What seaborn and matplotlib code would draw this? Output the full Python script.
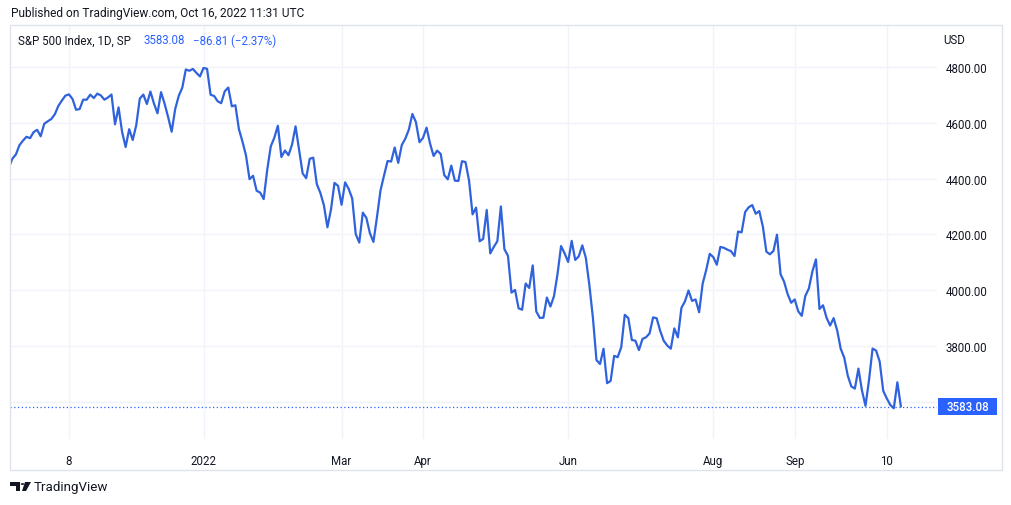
import numpy as np
import pandas as pd
import matplotlib
matplotlib.use("Agg")
import matplotlib.pyplot as plt
import matplotlib.transforms as mtransforms
from matplotlib.patches import Rectangle, Polygon, Circle
import seaborn as sns

# ---------------- data ----------------
start_date = "2021-10-14"
end_date = "2022-10-14"
holidays = ["2021-11-25", "2021-12-24", "2022-01-17", "2022-02-21", "2022-04-15",
            "2022-05-30", "2022-06-20", "2022-07-04", "2022-09-05"]

close_2021 = [
    4438.26, 4471.37, 4486.46, 4519.63, 4536.19, 4549.78, 4544.90, 4566.48, 4574.79, 4551.68, 4596.42, 4605.38,
    4613.67, 4630.65, 4660.57, 4680.06, 4697.53, 4701.70, 4685.25, 4646.71, 4649.27, 4682.85, 4682.80, 4700.90,
    4688.67, 4704.54, 4697.96, 4682.94, 4690.70, 4701.46, 4594.62, 4655.27, 4567.00,
    4513.04, 4577.10, 4538.43, 4591.67, 4686.75, 4701.21, 4667.45, 4712.02, 4668.97, 4634.09, 4709.85, 4668.67,
    4620.64, 4568.02, 4649.23, 4696.56, 4725.79, 4791.19, 4786.35, 4793.06, 4778.73, 4766.18,
]
close_2022_h1 = [
    4796.56, 4793.54, 4700.58, 4696.05, 4677.03, 4670.29, 4713.07, 4726.35, 4659.03, 4662.85, 4577.11, 4532.76,
    4482.73, 4397.94, 4410.13, 4356.45, 4349.93, 4326.51, 4431.85, 4515.55,
    4546.54, 4589.38, 4477.44, 4500.53, 4483.87, 4521.54, 4587.18, 4504.08, 4418.64, 4401.67, 4471.07, 4475.01,
    4380.26, 4348.87, 4304.76, 4225.50, 4288.70, 4384.65, 4373.94,
    4306.26, 4386.54, 4363.49, 4328.87, 4201.09, 4170.70, 4277.88, 4259.52, 4204.31, 4173.11, 4262.45, 4357.86,
    4411.67, 4463.12, 4461.18, 4511.61, 4456.24, 4520.16, 4543.06, 4575.52, 4631.60, 4602.45, 4530.41,
    4545.86, 4582.64, 4525.12, 4481.15, 4500.21, 4488.28, 4412.53, 4397.45, 4446.59, 4392.59, 4391.69, 4462.21,
    4459.45, 4393.66, 4271.78, 4296.12, 4175.20, 4183.96, 4287.50, 4131.93,
    4155.38, 4175.48, 4300.17, 4146.87, 4123.34, 3991.24, 4001.05, 3935.18, 3930.08, 4023.89, 4008.01, 4088.85,
    3923.68, 3900.79, 3901.36, 3973.75, 3941.48, 3978.73, 4057.84, 4158.24, 4132.15,
    4101.23, 4176.82, 4108.54, 4121.43, 4160.68, 4115.77, 4017.82, 3900.86, 3749.63, 3735.48, 3789.99, 3666.77,
    3674.84, 3764.79, 3759.89, 3795.73, 3911.74, 3900.11, 3821.55, 3818.83, 3785.38,
]
close_2022_h2 = [
    3825.33, 3831.39, 3845.08, 3902.62, 3899.38, 3854.43, 3818.80, 3801.78, 3790.38, 3863.16, 3830.85, 3936.69,
    3959.90, 3998.95, 3961.63, 3966.84, 3921.05, 4023.61, 4072.43, 4130.29,
    4118.63, 4091.19, 4155.17, 4151.94, 4145.19, 4140.06, 4122.47, 4210.24, 4207.27, 4280.15, 4297.14, 4305.20,
    4274.04, 4283.74, 4228.48, 4137.99, 4128.73, 4140.77, 4199.12, 4057.66, 4030.61, 3986.16, 3955.00,
    3966.85, 3924.26, 3908.19, 3979.87, 4006.18, 4067.36, 4110.41, 3932.69, 3946.01, 3901.35, 3873.33, 3899.89,
    3855.93, 3789.93, 3757.99, 3693.23, 3655.04, 3647.29, 3719.04, 3640.47, 3585.62,
    3678.43, 3790.93, 3783.28, 3744.52, 3639.66, 3612.39, 3588.84, 3577.03, 3669.89, 3583.08,
]
closes = close_2021 + close_2022_h1 + close_2022_h2

tick_dates = ["2021-11-08", "2022-01-03", "2022-03-01", "2022-04-01", "2022-06-01",
              "2022-08-01", "2022-09-01", "2022-10-10"]
tick_labels = ["8", "2022", "Mar", "Apr", "Jun", "Aug", "Sep", "10"]
y_ticks = [3600, 3800, 4000, 4200, 4400, 4600, 4800]

header_text = "Published on TradingView.com, Oct 16, 2022 11:31 UTC"
title_text = "S&P 500 Index, 1D, SP"
last_text = "3583.08"
change_text = "\u221286.81 (\u22122.37%)"

# ---------------- build frame ----------------
dates = pd.bdate_range(start_date, end_date)
dates = dates[~dates.isin(pd.to_datetime(holidays))]
df = pd.DataFrame({"date": dates, "close": closes})
df["idx"] = np.arange(len(df))
date_to_idx = {d.strftime("%Y-%m-%d"): i for i, d in enumerate(df["date"])}
tick_pos = [date_to_idx[d] for d in tick_dates]

# ---------------- style ----------------
sns.set_theme(style="white")
FONT = ["Roboto", "DejaVu Sans"]
plt.rcParams["font.family"] = FONT
TXT = "#131722"
BLUE = "#2962FF"
LINE = "#2f62dc"
GRID = "#f0f3fa"
BORDER = "#e0e3eb"

W, H = 1012, 506
fig = plt.figure(figsize=(W / 100, H / 100), dpi=100)
fig.patch.set_facecolor("white")

def fx(px):
    return px / W

def fy(py):
    return 1 - py / H

# outer chart frame
fig.patches.append(Rectangle((fx(10), fy(471)), 992 / W, 445 / H, transform=fig.transFigure,
                             fill=False, edgecolor=BORDER, lw=1.0, zorder=0))

ax = fig.add_axes([fx(10), fy(440), 927 / W, 414 / H])
ax.set_facecolor("white")

sns.lineplot(data=df, x="idx", y="close", ax=ax, color=LINE, lw=1.6, zorder=3)

s = 3.54
x0 = 17 - (69 - 10) / s
x1 = 17 + (937 - 69) / s
ax.set_xlim(x0, x1)
ax.set_ylim(3466.7, 4950.5)

ax.set_xticks(tick_pos)
ax.set_xticklabels(tick_labels)
ax.set_yticks(y_ticks)
ax.set_yticklabels([f"{v:.2f}" for v in y_ticks])
ax.yaxis.tick_right()
ax.tick_params(axis="y", length=0, pad=6, labelsize=8.3, labelcolor=TXT)
ax.tick_params(axis="x", length=0, pad=11, labelsize=8.3, labelcolor=TXT)
for lab in ax.get_yticklabels():
    lab.set_horizontalalignment("left")
ax.grid(True, color=GRID, lw=1.0)
for sp in ax.spines.values():
    sp.set_visible(False)
ax.set_xlabel("")
ax.set_ylabel("")

last_val = closes[-1]
ax.axhline(last_val, color=BLUE, lw=0.9, ls=(0, (1, 2)), zorder=2)

# price label box on right scale
bt = mtransforms.blended_transform_factory(fig.transFigure, ax.transData)
ybox = ax.transData.transform((0, last_val))[1]
fig.patches.append(Rectangle((fx(938), (ybox - 8.5) / H), 59 / W, 17 / H, transform=fig.transFigure,
                             facecolor=BLUE, edgecolor="none", zorder=5))
fig.text(fx(967.5), last_val, last_text, transform=bt, color="white", fontsize=8.3,
         ha="center", va="center", zorder=6, fontweight="medium")

# texts
fig.text(fx(11), fy(14), header_text, color=TXT, fontsize=8.6, ha="left", va="center")
fig.text(fx(18), fy(41), title_text, color=TXT, fontsize=8.3, ha="left", va="center")
fig.text(fx(144), fy(41), last_text, color=BLUE, fontsize=8.3, ha="left", va="center")
fig.text(fx(193), fy(41), change_text, color=BLUE, fontsize=8.3, ha="left", va="center")
fig.text(fx(943), fy(41), "USD", color=TXT, fontsize=8.3, ha="left", va="center")

# TradingView logo
logo_pts_T = [(10, 483), (20, 483), (20, 492), (16, 492), (16, 487), (10, 487)]
logo_pts_V = [(25, 483), (31, 483), (26, 492), (22, 492)]
fig.patches.append(Polygon([(fx(a), fy(b)) for a, b in logo_pts_T], closed=True,
                           transform=fig.transFigure, facecolor=TXT, edgecolor="none"))
fig.patches.append(Polygon([(fx(a), fy(b)) for a, b in logo_pts_V], closed=True,
                           transform=fig.transFigure, facecolor=TXT, edgecolor="none"))
fig.patches.append(Circle((fx(22.5), fy(485)), 1.8 / W, transform=fig.transFigure,
                          facecolor=TXT, edgecolor="none"))
fig.text(fx(34), fy(487.5), "TradingView", color=TXT, fontsize=9.6, ha="left", va="center")

fig.savefig("out.png", dpi=100, facecolor="white")
